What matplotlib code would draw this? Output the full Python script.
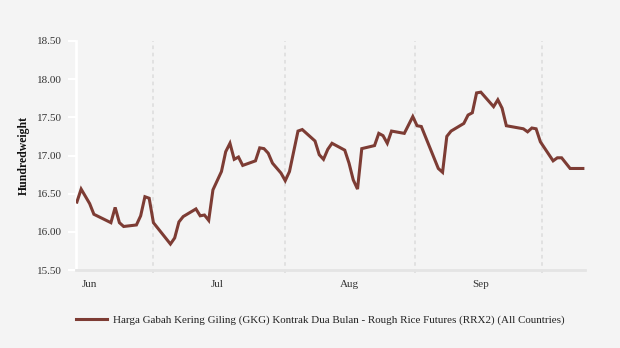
import pandas as pd
import matplotlib
matplotlib.use("Agg")
import matplotlib.pyplot as plt

# daily rough rice futures price, 2023
dates = ["2023-05-29", "2023-05-30", "2023-06-01", "2023-06-02", "2023-06-06",
         "2023-06-07", "2023-06-08", "2023-06-09", "2023-06-12", "2023-06-13",
         "2023-06-14", "2023-06-15", "2023-06-16", "2023-06-20", "2023-06-21",
         "2023-06-22", "2023-06-23", "2023-06-26", "2023-06-27", "2023-06-28",
         "2023-06-29", "2023-06-30", "2023-07-02", "2023-07-03", "2023-07-04",
         "2023-07-05", "2023-07-06", "2023-07-07", "2023-07-10", "2023-07-11",
         "2023-07-12", "2023-07-13", "2023-07-14", "2023-07-16", "2023-07-17",
         "2023-07-18", "2023-07-20", "2023-07-21", "2023-07-24", "2023-07-25",
         "2023-07-26", "2023-07-27", "2023-07-28", "2023-07-31", "2023-08-01",
         "2023-08-02", "2023-08-03", "2023-08-04", "2023-08-07", "2023-08-08",
         "2023-08-09", "2023-08-10", "2023-08-11", "2023-08-14", "2023-08-15",
         "2023-08-16", "2023-08-17", "2023-08-18", "2023-08-22", "2023-08-23",
         "2023-08-24", "2023-08-25", "2023-08-28", "2023-08-29", "2023-08-30",
         "2023-08-31", "2023-09-01", "2023-09-04", "2023-09-05", "2023-09-06",
         "2023-09-07", "2023-09-11", "2023-09-12", "2023-09-13", "2023-09-14",
         "2023-09-15", "2023-09-18", "2023-09-19", "2023-09-20", "2023-09-22",
         "2023-09-25"]
prices = [16.39, 16.56, 16.37, 16.23, 16.12,
          16.32, 16.12, 16.07, 16.09, 16.21,
          16.46, 16.44, 16.12, 15.84, 15.92,
          16.13, 16.20, 16.30, 16.21, 16.22,
          16.15, 16.55, 16.79, 17.05, 17.16,
          16.95, 16.98, 16.87, 16.93, 17.10,
          17.09, 17.03, 16.90, 16.77, 16.67,
          16.79, 17.32, 17.34, 17.19, 17.01,
          16.95, 17.08, 17.16, 17.07, 16.90,
          16.68, 16.56, 17.09, 17.13, 17.29,
          17.26, 17.16, 17.32, 17.29, 17.40,
          17.51, 17.39, 17.38, 16.83, 16.78,
          17.25, 17.32, 17.42, 17.53, 17.56,
          17.82, 17.83, 17.64, 17.73, 17.62,
          17.39, 17.35, 17.31, 17.36, 17.35,
          17.18, 16.93, 16.97, 16.97, 16.83,
          16.83]

month_ticks = ["2023-06-01", "2023-07-01", "2023-08-01", "2023-09-01"]
month_labels = ["Jun", "Jul", "Aug", "Sep"]
grid_dates = ["2023-06-16 00:00", "2023-07-17 00:00", "2023-08-16 12:00", "2023-09-15 12:00"]
y_ticks = [15.5, 16.0, 16.5, 17.0, 17.5, 18.0, 18.5]

series_name = "Harga Gabah Kering Giling (GKG) Kontrak Dua Bulan - Rough Rice Futures (RRX2) (All Countries)"

bg = "#f4f4f4"
line_color = "#7d3c34"
text_color = "#333333"

plt.rcParams["font.family"] = ["Liberation Serif", "DejaVu Serif"]

fig = plt.figure(figsize=(6.2, 3.48), dpi=100, facecolor=bg)
ax = fig.add_axes([76 / 620, 1 - 270 / 348, (585 - 76) / 620, (270 - 41) / 348])
ax.set_facecolor(bg)

x = pd.to_datetime(dates)
for g in pd.to_datetime(grid_dates):
    ax.axvline(g, ymin=-0.015, ymax=1, color="#e0e0e0", lw=1.3,
               ls=(0, (2, 2)), clip_on=False, zorder=1)

ax.plot(x, prices, color=line_color, lw=2.2, solid_joinstyle="miter", zorder=3,
        label=series_name)

ax.set_xlim(pd.Timestamp("2023-05-28 19:00"), pd.Timestamp("2023-09-25 12:00"))
ax.set_ylim(15.5, 18.5)
ax.set_yticks(y_ticks)
ax.set_yticklabels([f"{v:.2f}" for v in y_ticks])
ax.set_xticks(pd.to_datetime(month_ticks))
ax.set_xticklabels(month_labels)

for s in ["top", "right"]:
    ax.spines[s].set_visible(False)
ax.spines["left"].set_color("white")
ax.spines["left"].set_linewidth(2)
ax.spines["bottom"].set_color("#e4e4e4")
ax.spines["bottom"].set_linewidth(2)
ax.tick_params(axis="y", colors="white", length=6, width=1.5, labelcolor=text_color,
               labelsize=8, pad=4)
ax.tick_params(axis="x", length=0, labelcolor=text_color, labelsize=8, pad=7)

ax.set_ylabel("Hundredweight", fontsize=8.5, fontweight="bold", color="#111111",
              labelpad=5)

fig.legend(loc="center left", bbox_to_anchor=(76 / 620, 1 - 320 / 348),
           frameon=False, fontsize=7.9, handlelength=2.8, handletextpad=0.6,
           borderpad=0, borderaxespad=0, labelcolor="#222222")

fig.savefig("out.png", dpi=100, facecolor=bg)
